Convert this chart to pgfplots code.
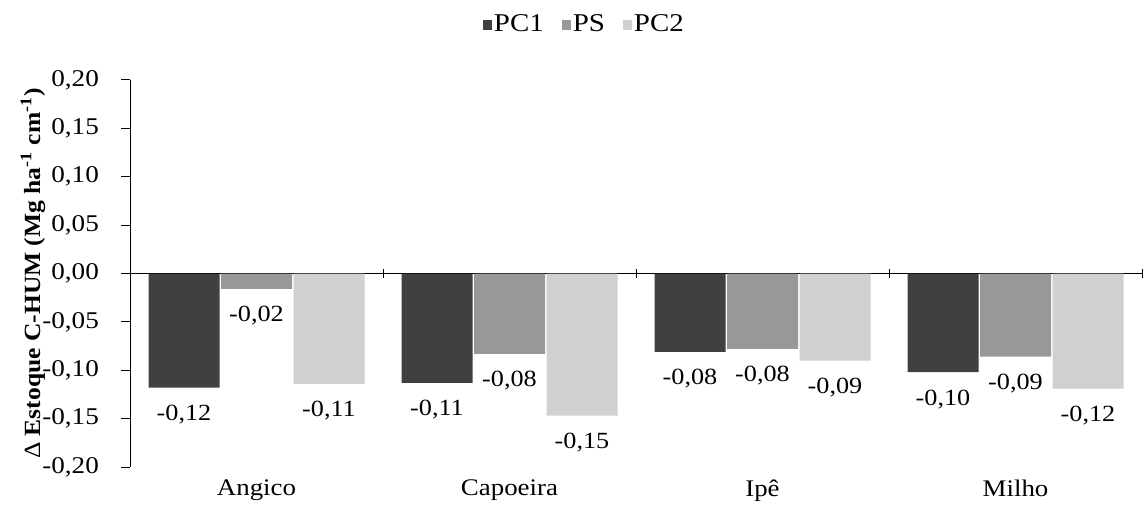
\documentclass[border=0pt]{standalone}
\usepackage{fontspec}
\setmainfont{Liberation Serif}[FakeStretch=1.13]
\newfontfamily\ylabfont{Liberation Serif}[FakeStretch=1.1]
\usepackage{pgfplots}
\pgfplotsset{compat=1.18}
\definecolor{cPCone}{HTML}{404040}
\definecolor{cPS}{HTML}{989898}
\definecolor{cPCtwo}{HTML}{D0D0D0}
\begin{document}
\fontsize{11.6}{13.9}\selectfont
\begin{tikzpicture}
\useasboundingbox (-65pt,-18.5pt) rectangle (507pt,233.5pt);
\begin{axis}[
  at={(0,0)}, anchor=south west,
  scale only axis, width=506pt, height=193.5pt,
  ybar=0.75pt, bar width=35.5pt,
  xmin=-0.5, xmax=3.5, ymin=-0.2, ymax=0.2,
  enlargelimits=false,
  axis y line=left, axis x line=middle,
  axis line style={-, black, line width=0.5pt},
  hide obscured y ticks=false,
  hide obscured x ticks=false,
  ytick={-0.2,-0.15,-0.1,-0.05,0,0.05,0.1,0.15,0.2},
  ytick align=outside, xtick align=center,
  major tick length=4.5pt,
  tick style={black, line width=0.5pt},
  yticklabel style={font=\fontsize{12}{14}\selectfont, xshift=-7pt, /pgf/number format/.cd, fixed, fixed zerofill, precision=2, use comma, assume math mode=true},
  xtick={0.5,1.5,2.5,3.5}, xticklabels={},
  extra x ticks={0,1,2,3},
  extra x tick labels={Angico,Capoeira,Ip\^e,Milho},
  extra x tick style={major tick length=0pt, xticklabel style={yshift=-99pt, font=\fontsize{11.9}{14}\selectfont}},
  ylabel={\ylabfont Δ \textbf{Estoque C-HUM (Mg ha\textsuperscript{-1} cm\textsuperscript{-1})}},
  ylabel style={at={(axis description cs:-0.0958,0.5)}, anchor=center},
  nodes near coords={\pgfmathprintnumber[fixed,fixed zerofill,precision=2,use comma,assume math mode=true]{\pgfplotspointmeta}},
  every node near coord/.append style={anchor=center, yshift=-13.5pt, black},
  legend style={at={(0.449,1.142)}, anchor=center, draw=none, fill=none,
    legend columns=-1, /tikz/every even column/.append style={column sep=8pt},
    nodes={inner sep=1pt}, font=\fontsize{12.8}{15}\selectfont},
  legend image code/.code={\fill[#1] (0pt,-2.6pt) rectangle (4.5pt,2.6pt);},
]
\addplot[fill=cPCone, draw=none] coordinates {(0,-0.118) (1,-0.113) (2,-0.081) (3,-0.102)};
\addplot[fill=cPS, draw=none] coordinates {(0,-0.016) (1,-0.083) (2,-0.078) (3,-0.086)};
\addplot[fill=cPCtwo, draw=none] coordinates {(0,-0.114) (1,-0.147) (2,-0.090) (3,-0.119)};
\legend{PC1,PS,PC2}
\end{axis}
\end{tikzpicture}
\end{document}
